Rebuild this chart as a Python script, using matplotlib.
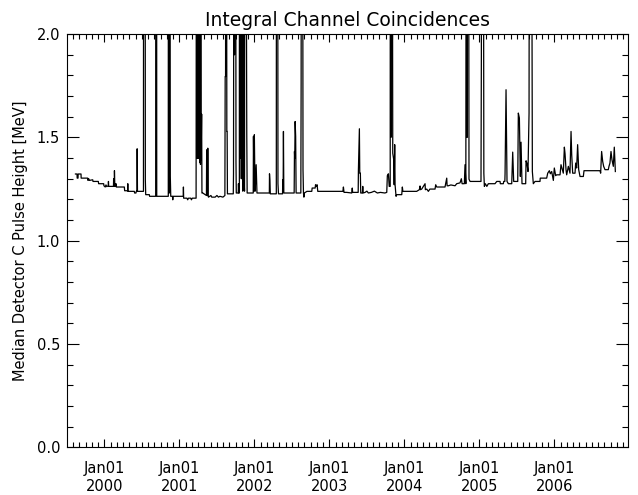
import matplotlib
matplotlib.use("Agg")
import matplotlib.pyplot as plt
import numpy as np

# time in decimal years, value in MeV (spikes above 2.0 are off scale)
years = [
    1999.613, 1999.634, 1999.636, 1999.647, 1999.649, 1999.687, 1999.689, 1999.776,
    1999.780, 1999.790, 1999.800, 1999.843, 1999.847, 1999.918, 1999.922, 1999.989,
    1999.993, 2000.010, 2000.020, 2000.030, 2000.051, 2000.053, 2000.056, 2000.120,
    2000.122, 2000.125, 2000.131, 2000.133, 2000.138, 2000.151, 2000.153, 2000.158,
    2000.265, 2000.269, 2000.309, 2000.311, 2000.313, 2000.398, 2000.402, 2000.420,
    2000.424, 2000.434, 2000.436, 2000.440, 2000.520, 2000.522, 2000.533, 2000.541,
    2000.545, 2000.550, 2000.598, 2000.602, 2000.683, 2000.685, 2000.695, 2000.697,
    2000.851, 2000.853, 2000.860, 2000.864, 2000.871, 2000.878, 2000.884, 2000.907,
    2000.911, 2000.915, 2001.051, 2001.053, 2001.056, 2001.100, 2001.110, 2001.120,
    2001.150, 2001.160, 2001.170, 2001.222, 2001.228, 2001.232, 2001.236, 2001.240,
    2001.244, 2001.248, 2001.252, 2001.256, 2001.260, 2001.264, 2001.268, 2001.272,
    2001.276, 2001.280, 2001.284, 2001.289, 2001.296, 2001.300, 2001.311,
    2001.360, 2001.363, 2001.365, 2001.376, 2001.378, 2001.381, 2001.387, 2001.420,
    2001.430, 2001.476, 2001.500, 2001.520, 2001.540, 2001.580, 2001.606, 2001.610,
    2001.615, 2001.620, 2001.625, 2001.632, 2001.636, 2001.640, 2001.718, 2001.721,
    2001.730, 2001.734, 2001.740, 2001.748, 2001.754, 2001.758, 2001.784, 2001.787,
    2001.792, 2001.799, 2001.801, 2001.808, 2001.812, 2001.818, 2001.825, 2001.830,
    2001.838, 2001.845, 2001.850, 2001.856, 2001.862, 2001.868, 2001.874, 2001.880,
    2001.898, 2001.903, 2001.984, 2001.987, 2001.995, 2001.999, 2002.006, 2002.010,
    2002.023, 2002.028, 2002.034, 2002.199, 2002.201, 2002.206, 2002.212, 2002.292,
    2002.294, 2002.300, 2002.308, 2002.314, 2002.321, 2002.375, 2002.378, 2002.383,
    2002.387, 2002.392, 2002.530, 2002.534, 2002.538, 2002.543, 2002.550, 2002.556,
    2002.619, 2002.623, 2002.628, 2002.640, 2002.648, 2002.654, 2002.660, 2002.666,
    2002.700, 2002.765, 2002.770, 2002.810, 2002.815, 2002.825, 2002.836, 2002.845,
    2003.180, 2003.187, 2003.195, 2003.230,
    2003.298, 2003.305, 2003.310, 2003.384, 2003.387, 2003.400, 2003.405, 2003.413,
    2003.418, 2003.440, 2003.445, 2003.450, 2003.476, 2003.500, 2003.520, 2003.560,
    2003.600, 2003.640, 2003.680, 2003.740, 2003.765, 2003.773, 2003.787, 2003.798,
    2003.811, 2003.813, 2003.820, 2003.825, 2003.835, 2003.845, 2003.858, 2003.864,
    2003.871, 2003.876, 2003.889, 2003.898, 2003.965, 2003.973, 2003.980, 2004.164,
    2004.200, 2004.209, 2004.215, 2004.231, 2004.276, 2004.280, 2004.298, 2004.320,
    2004.340, 2004.409, 2004.418, 2004.431, 2004.542, 2004.565, 2004.570, 2004.587,
    2004.620, 2004.676, 2004.698, 2004.742, 2004.760, 2004.770, 2004.800, 2004.809,
    2004.820, 2004.826, 2004.831, 2004.836, 2004.842, 2004.853, 2004.862, 2004.876,
    2005.022, 2005.027, 2005.031, 2005.042, 2005.050, 2005.060, 2005.067, 2005.080,
    2005.100, 2005.120, 2005.209, 2005.232, 2005.276, 2005.280, 2005.320, 2005.325,
    2005.340, 2005.343, 2005.356, 2005.369, 2005.387, 2005.432, 2005.445, 2005.458,
    2005.512, 2005.520, 2005.534, 2005.547, 2005.556, 2005.569, 2005.618, 2005.623,
    2005.636, 2005.649, 2005.663, 2005.670, 2005.680, 2005.690, 2005.707, 2005.720,
    2005.743, 2005.809, 2005.812, 2005.898, 2005.912, 2005.934, 2005.947, 2005.965,
    2005.987, 2006.000, 2006.018, 2006.031, 2006.076, 2006.089, 2006.107, 2006.120,
    2006.134, 2006.143, 2006.156, 2006.165, 2006.187, 2006.209, 2006.223, 2006.232,
    2006.245, 2006.276, 2006.285, 2006.298, 2006.311, 2006.325, 2006.343, 2006.387,
    2006.396, 2006.609, 2006.618, 2006.631, 2006.645, 2006.658, 2006.676, 2006.720,
    2006.729, 2006.742, 2006.756, 2006.769, 2006.787, 2006.800, 2006.814,
]
pulse_height = [
    1.323, 1.323, 1.303, 1.303, 1.323, 1.323, 1.303, 1.303,
    1.292, 1.300, 1.292, 1.295, 1.287, 1.287, 1.276, 1.276,
    1.266, 1.260, 1.270, 1.262, 1.266, 1.287, 1.263, 1.263,
    1.300, 1.263, 1.263, 1.339, 1.263, 1.263, 1.276, 1.260,
    1.260, 1.242, 1.242, 1.276, 1.239, 1.239, 1.231, 1.231,
    1.239, 1.239, 1.445, 1.239, 1.239, 4.0, 4.0, 4.0,
    1.295, 1.223, 1.223, 1.215, 1.215, 4.0, 4.0, 1.215,
    1.215, 4.0, 1.230, 4.0, 4.0, 1.311, 1.215, 1.215,
    1.198, 1.215, 1.215, 1.260, 1.206, 1.206, 1.198, 1.206,
    1.206, 1.198, 1.206, 1.206, 4.0, 1.40, 4.0, 1.40,
    4.0, 1.40, 4.0, 1.40, 4.0, 1.40, 4.0, 1.38,
    4.0, 1.37, 4.0, 1.39, 1.613, 1.231, 1.231,
    1.219, 1.44, 1.219, 1.219, 1.448, 1.219, 1.211, 1.219,
    1.211, 1.211, 1.219, 1.211, 1.215, 1.211, 1.219, 1.795,
    1.795, 4.0, 4.0, 1.529, 1.529, 1.227, 1.227, 1.324,
    4.0, 1.9, 4.0, 4.0, 1.384, 1.231, 1.231, 1.276,
    1.231, 1.231, 4.0, 1.4, 4.0, 4.0, 1.3, 4.0,
    4.0, 1.24, 4.0, 4.0, 1.3, 1.24, 4.0, 4.0,
    1.513, 1.231, 1.231, 1.505, 1.24, 1.513, 1.303, 1.24,
    1.368, 1.303, 1.231, 1.231, 1.324, 1.295, 1.227, 1.227,
    4.0, 4.0, 4.0, 1.276, 1.227, 1.227, 1.295, 1.24,
    1.529, 1.231, 1.231, 1.432, 1.40, 1.577, 1.505, 1.231,
    1.231, 1.763, 4.0, 4.0, 1.344, 1.231, 1.211, 1.231,
    1.239, 1.239, 1.255, 1.255, 1.271, 1.263, 1.271, 1.239,
    1.239, 1.26, 1.234, 1.234,
    1.231, 1.255, 1.234, 1.234, 1.344, 1.542, 1.327, 1.327,
    1.231, 1.231, 1.263, 1.231, 1.234, 1.240, 1.231, 1.234,
    1.240, 1.231, 1.234, 1.231, 1.234, 1.315, 1.324, 1.263,
    1.263, 4.0, 1.5, 4.0, 4.0, 1.424, 1.392, 1.271,
    1.465, 1.271, 1.215, 1.223, 1.223, 1.26, 1.239, 1.239,
    1.247, 1.265, 1.247, 1.250, 1.276, 1.247, 1.250, 1.239,
    1.250, 1.250, 1.271, 1.260, 1.260, 1.303, 1.266, 1.266,
    1.270, 1.266, 1.276, 1.280, 1.300, 1.276, 1.276, 1.368,
    1.276, 4.0, 4.0, 1.5, 4.0, 4.0, 1.298, 1.287,
    1.287, 1.892, 4.0, 4.0, 4.0, 1.327, 1.263, 1.276,
    1.263, 1.276, 1.276, 1.287, 1.287, 1.276, 1.276, 1.287,
    1.287, 1.324, 1.731, 1.287, 1.276, 1.276, 1.429, 1.287,
    1.287, 1.618, 1.594, 1.311, 1.477, 1.276, 1.276, 1.387,
    1.373, 1.335, 1.618, 4.0, 4.0, 4.0, 1.335, 1.276,
    1.287, 1.287, 1.303, 1.303, 1.327, 1.339, 1.324, 1.335,
    1.292, 1.352, 1.315, 1.319, 1.319, 1.368, 1.344, 1.327,
    1.453, 1.421, 1.344, 1.319, 1.360, 1.327, 1.529, 1.416,
    1.327, 1.327, 1.376, 1.352, 1.465, 1.344, 1.311, 1.311,
    1.339, 1.339, 1.327, 1.432, 1.384, 1.360, 1.344, 1.344,
    1.360, 1.376, 1.432, 1.392, 1.360, 1.453, 1.335,
]

label_years = [2000, 2001, 2002, 2003, 2004, 2005, 2006]
x_start, x_end = 1999.5, 2006.98

fig = plt.figure(figsize=(6.38, 4.95), dpi=100)
ax = fig.add_axes([0.105, 0.0964, 0.879, 0.8346])

ax.plot(years, pulse_height, color="black", linewidth=0.9)

ax.set_xlim(x_start, x_end)
ax.set_ylim(0.0, 2.0)

ax.set_xticks(label_years)
ax.set_xticklabels([f"Jan01\n{y}" for y in label_years])
months = [y + m / 12.0 for y in range(1999, 2007) for m in range(1, 12)]
months = [m for m in months if x_start < m < x_end]
ax.set_xticks(months, minor=True)

ax.set_yticks(np.arange(0.0, 2.01, 0.5))
ax.set_yticklabels(["0.0", "0.5", "1.0", "1.5", "2.0"])
ax.set_yticks(np.arange(0.0, 2.01, 0.1), minor=True)

ax.tick_params(axis="y", which="both", direction="in", left=True, right=True,
               labelsize=10.5, pad=5, width=0.8)
ax.tick_params(axis="y", which="major", length=8.5)
ax.tick_params(axis="y", which="minor", length=4.3)
ax.tick_params(axis="x", which="both", direction="in", top=True, bottom=True,
               labelsize=10.5, pad=10, width=0.8)
ax.tick_params(axis="x", which="major", length=6)
ax.tick_params(axis="x", which="minor", length=3.3)

for s in ax.spines.values():
    s.set_linewidth(0.8)

ax.set_ylabel("Median Detector C Pulse Height [MeV]", fontsize=10.5, labelpad=6)
ax.set_title("Integral Channel Coincidences", fontsize=13.5, pad=6)

plt.savefig("out.png", dpi=100)
